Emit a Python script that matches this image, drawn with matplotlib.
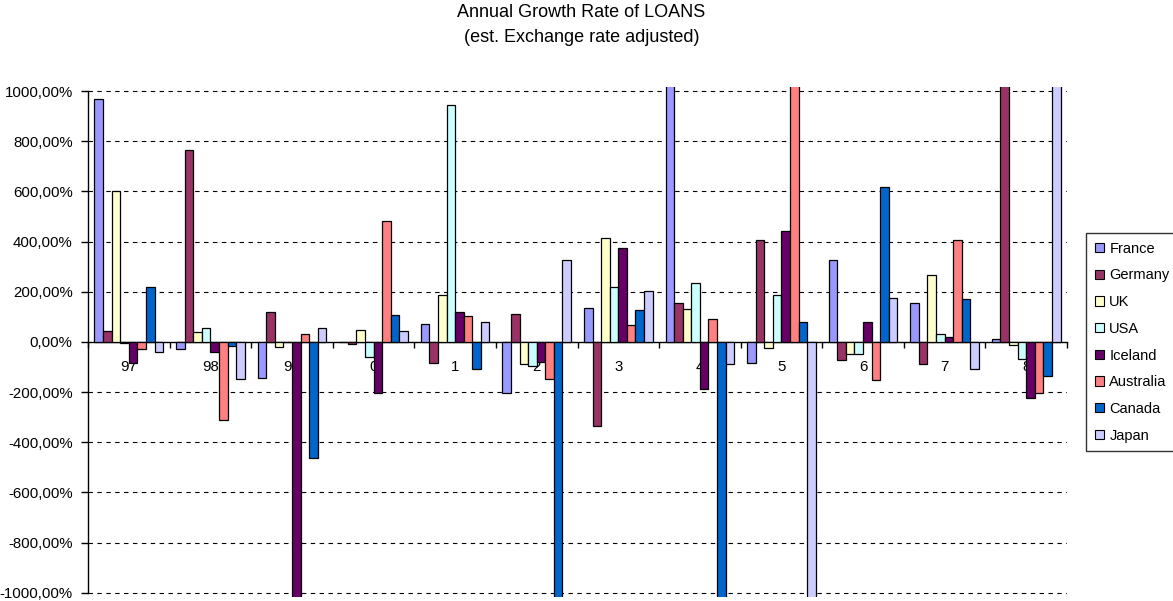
import matplotlib
matplotlib.use("Agg")
import matplotlib.pyplot as plt
from matplotlib.ticker import FuncFormatter, FixedLocator
from matplotlib.patches import Patch

plt.rcParams['font.family'] = ['Liberation Sans', 'DejaVu Sans']

years = ["97", "98", "99", "0", "1", "2", "3", "4", "5", "6", "7", "8"]
countries = ["France", "Germany", "UK", "USA", "Iceland", "Australia", "Canada", "Japan"]

# annual growth rate of loans, percent
france    = [970,  -28, -143,    0,   73, -203,  136, 1200,  -86,  327,  153,   12]
germany   = [ 44,  764,  119,  -10,  -86,  113, -335,  153,  407,  -73,  -90, 1300]
uk        = [600,   39,  -22,   47,  187,  -90,  413,  131,  -23,  -49,  267,  -11]
usa       = [ -5,   56,    0,  -62,  945,  -96,  220,  233,  187,  -50,   33,  -68]
iceland   = [-85,  -40,-1200, -203,  119,  -80,  373, -187,  443,   79,   21, -222]
australia = [-28, -311,   33,  481,  103, -149,   69,   91, 1150, -153,  407, -203]
canada    = [219,  -16, -464,  108, -109,-1100,  125,-1250,   79,  616,  169, -135]
japan     = [-40, -148,   56,   45,   80,  328,  204,  -90,-1150,  175, -109, 1400]

series = [france, germany, uk, usa, iceland, australia, canada, japan]
colors = ["#9999FF", "#993366", "#FFFFCC", "#CCFFFF",
          "#660066", "#FF8080", "#0066CC", "#CCCCFF"]

W, H = 1173, 601
fig = plt.figure(figsize=(W / 100, H / 100), dpi=100)
ax = fig.add_axes([88 / W, 1 - 596.7 / H, (1067 - 88) / W, (596.7 - 87) / H])

n = len(series)
slot = 1.0 / (n + 1.5)
xs = list(range(len(years)))
for j, (vals, col) in enumerate(zip(series, colors)):
    offs = [x + (j - (n - 1) / 2) * slot for x in xs]
    ax.bar(offs, vals, width=slot, color=col, edgecolor="black",
           linewidth=0.9, zorder=3, label=countries[j])

ax.set_xlim(-0.5, len(years) - 0.5)
ax.set_ylim(-1016, 1016)
ax.set_axisbelow(True)

# dashed horizontal gridlines
for v in range(-1000, 1001, 200):
    if v != 0:
        ax.axhline(v, color="black", linewidth=0.8, linestyle=(0, (4, 4)), zorder=0.5)

for s in ("top", "right"):
    ax.spines[s].set_visible(False)
ax.spines["left"].set_bounds(-1000, 1000)
ax.spines["left"].set_linewidth(1.0)
ax.spines["bottom"].set_position(("data", 0))
ax.spines["bottom"].set_linewidth(1.0)

ax.yaxis.set_major_locator(FixedLocator(list(range(-1000, 1001, 200))))
ax.yaxis.set_major_formatter(FuncFormatter(lambda v, p: f"{v:.2f}".replace(".", ",") + "%"))
ax.tick_params(axis="y", direction="out", length=5, width=1.0, pad=6, labelsize=10.8)

# category boundaries as ticks, labels at category centres
ax.set_xticks([x - 0.5 for x in xs] + [len(years) - 0.5])
ax.set_xticklabels([])
ax.set_xticks(xs, minor=True)
ax.set_xticklabels(years, minor=True)
ax.tick_params(axis="x", which="major", direction="out", length=4, width=1.0)
ax.tick_params(axis="x", which="minor", length=0, pad=13, labelsize=10.8)

fig.text(581.5 / W, 1 - 12.5 / H, "Annual Growth Rate of LOANS",
         ha="center", va="center", fontsize=13)
fig.text(581.5 / W, 1 - 37 / H, "(est. Exchange rate adjusted)",
         ha="center", va="center", fontsize=13)

handles = [Patch(facecolor=c, edgecolor="black", linewidth=0.8) for c in colors]
leg = fig.legend(handles, countries, loc="upper left",
                 bbox_to_anchor=(1086 / W, 1 - 233 / H), borderaxespad=0,
                 fontsize=10.5, frameon=True, fancybox=False,
                 handlelength=0.6, handleheight=0.6, handletextpad=0.4,
                 labelspacing=0.87, borderpad=0.6)
leg.get_frame().set_edgecolor("black")
leg.get_frame().set_linewidth(1.0)

fig.savefig("out.png", dpi=100)
